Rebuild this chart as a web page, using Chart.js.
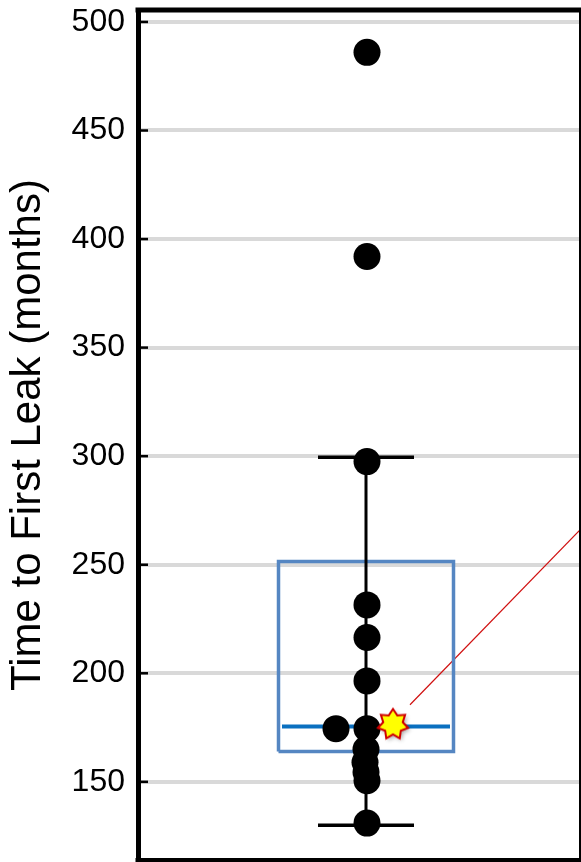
<!DOCTYPE html>
<html>
<head>
<meta charset="utf-8">
<script src="https://cdn.jsdelivr.net/npm/chart.js@4.4.1/dist/chart.umd.min.js"></script>
<style>
  html, body { margin: 0; padding: 0; background: #fff; overflow: hidden; }
  #wrap { width: 581px; height: 862px; position: relative; }
  #leak-chart { display: block; }
</style>
</head>
<body>
<div id="wrap"><canvas id="leak-chart"></canvas></div>
<script>
//-- Data//
const leakMonths = [486, 392, 297.5, 231.5, 216.5, 196.5, 174.5, 174.5, 165, 159, 154.5, 150.5, 131];
const pointShift = [1, 1, 1, 1, 1, 1, 1, -30, 0, -1, 0, 1, 1];
const boxStats = [130, 164, 175.5, 251.5, 299.5]; // low whisker, q1, median, q3, high whisker
const meanMonths = [175.5];
const calloutLine = [[44, 185.5], [214, 266]];
const tickValues = [150, 200, 250, 300, 350, 400, 450, 500];

const yMin = 114;
const yMax = 505.5;

// half widths in x units (x scale is laid out in px around the box centre)
const boxHalf = 87.5;
const medianHalf = 84;
const whiskerHalf = 48;

const [wLow, q1, med, q3, wHigh] = boxStats;

//-- Star marker (7 points, yellow)//
function makeStar() {
    const c = document.createElement('canvas');
    c.width = 46;
    c.height = 46;
    const g = c.getContext('2d');
    const cx = 21, cy = 21, outer = 15.5, inner = 10;
    g.beginPath();
    for (let i = 0; i < 14; i++) {
        const r = i % 2 === 0 ? outer : inner;
        const a = -Math.PI / 2 + i * Math.PI / 7;
        g.lineTo(cx + r * Math.cos(a), cy + r * Math.sin(a));
    }
    g.closePath();
    g.shadowColor = 'rgba(0,0,0,0.35)';
    g.shadowBlur = 4;
    g.shadowOffsetX = 2;
    g.shadowOffsetY = 2;
    g.fillStyle = '#ffff00';
    g.fill();
    g.shadowColor = 'transparent';
    g.lineWidth = 2;
    g.strokeStyle = '#d00000';
    g.stroke();
    return c;
}

//-- Frame + small inside ticks//
const framePlugin = {
    id: 'frame',
    afterDraw(chart) {
        const { ctx, chartArea } = chart;
        const y = chart.scales.y;
        ctx.save();
        ctx.strokeStyle = '#000';
        ctx.lineWidth = 5;
        ctx.beginPath();
        ctx.moveTo(chartArea.left - 2.5, chartArea.top);
        ctx.lineTo(chartArea.right + 1, chartArea.top);
        ctx.stroke();
        ctx.lineWidth = 2;
        ctx.beginPath();
        ctx.moveTo(chartArea.right, chartArea.top);
        ctx.lineTo(chartArea.right, chartArea.bottom);
        ctx.stroke();
        ctx.lineWidth = 4;
        ctx.beginPath();
        ctx.moveTo(chartArea.left - 2.5, chartArea.bottom);
        ctx.lineTo(chartArea.right + 1, chartArea.bottom);
        ctx.stroke();
        ctx.lineWidth = 2.5;
        for (const v of tickValues) {
            const py = y.getPixelForValue(v);
            ctx.beginPath();
            ctx.moveTo(chartArea.left, py);
            ctx.lineTo(chartArea.left + 10, py);
            ctx.stroke();
        }
        ctx.restore();
    }
};

const lineSet = (data, color, width, order) => ({
    type: 'line',
    data,
    borderColor: color,
    borderWidth: width,
    pointRadius: 0,
    fill: false,
    tension: 0,
    order
});

const ctx = document.getElementById('leak-chart');

new Chart(ctx, {
    type: 'scatter',
    data: {
        datasets: [
            {
                label: 'Mean',
                data: meanMonths.map(v => ({ x: 29, y: v })),
                pointStyle: makeStar(),
                order: 0
            },
            {
                label: 'Leak',
                data: leakMonths.map((v, i) => ({ x: pointShift[i], y: v })),
                pointRadius: 13.5,
                pointHoverRadius: 13.5,
                backgroundColor: '#000',
                borderColor: '#000',
                borderWidth: 0,
                order: 1
            },
            lineSet([{ x: -whiskerHalf, y: wHigh }, { x: whiskerHalf, y: wHigh }], '#000', 3.5, 2),
            lineSet([{ x: -whiskerHalf, y: wLow }, { x: whiskerHalf, y: wLow }], '#000', 3.5, 2),
            lineSet([{ x: 0, y: wLow }, { x: 0, y: wHigh }], '#000', 3, 3),
            lineSet([{ x: -medianHalf, y: med }, { x: medianHalf, y: med }], '#0a70c0', 4, 4),
            lineSet([
                { x: -boxHalf, y: q1 }, { x: boxHalf, y: q1 },
                { x: boxHalf, y: q3 }, { x: -boxHalf, y: q3 },
                { x: -boxHalf, y: q1 }
            ], '#5586c2', 3.5, 5),
            lineSet(calloutLine.map(p => ({ x: p[0], y: p[1] })), '#d01010', 1.2, 6)
        ]
    },
    options: {
        responsive: true,
        maintainAspectRatio: false,
        animation: false,
        events: [],
        layout: { autoPadding: false, padding: { top: 10, right: 1, bottom: 2, left: 0 } },
        plugins: {
            legend: { display: false },
            tooltip: { enabled: false }
        },
        scales: {
            x: {
                type: 'linear',
                display: false,
                min: -228,
                max: 214
            },
            y: {
                type: 'linear',
                min: yMin,
                max: yMax,
                afterBuildTicks: scale => {
                    scale.ticks = tickValues.map(v => ({ value: v }));
                },
                afterFit: scale => {
                    scale.width = 138;
                    scale.paddingTop = 0;
                    scale.paddingBottom = 0;
                },
                border: { display: true, color: '#000', width: 5 },
                grid: {
                    color: '#d9d9d9',
                    lineWidth: 4,
                    drawTicks: false
                },
                ticks: {
                    color: '#000',
                    padding: 13,
                    font: { family: '"Liberation Sans", Arial, sans-serif', size: 32 }
                },
                title: {
                    display: true,
                    text: 'Time to First Leak (months)',
                    color: '#000',
                    padding: { top: 3, bottom: 0 },
                    font: { family: '"Liberation Sans", Arial, sans-serif', size: 42 }
                }
            }
        }
    },
    plugins: [framePlugin]
});
</script>
</body>
</html>
